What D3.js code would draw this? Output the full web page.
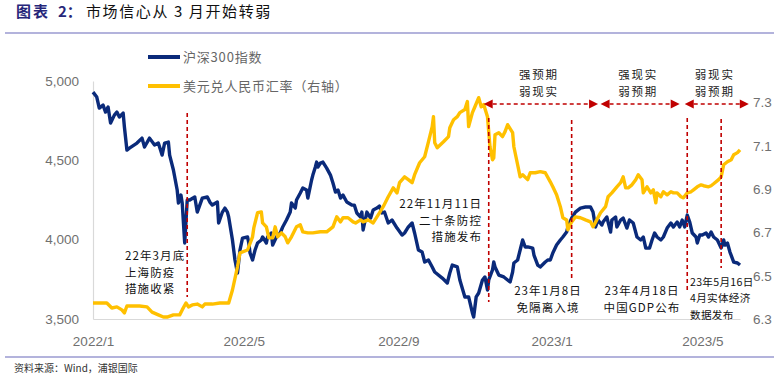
<!DOCTYPE html>
<html><head><meta charset="utf-8">
<script src="https://cdn.jsdelivr.net/npm/d3@7/dist/d3.min.js"></script>
<style>body{margin:0;background:#fff} svg{display:block}</style>
</head><body><svg id="c" width="774" height="378"></svg>
<script>
const csiDates = ["2022-01-04","2022-01-07","2022-01-09","2022-01-12","2022-01-14","2022-01-16","2022-01-18","2022-01-21","2022-01-23","2022-01-25","2022-01-28","2022-01-29","2022-01-31","2022-02-02","2022-02-08","2022-02-12","2022-02-14","2022-02-18","2022-02-22","2022-02-25","2022-02-28","2022-03-02","2022-03-05","2022-03-06","2022-03-09","2022-03-12","2022-03-13","2022-03-15","2022-03-16","2022-03-18","2022-03-20","2022-03-22","2022-03-26","2022-03-28","2022-04-01","2022-04-05","2022-04-07","2022-04-09","2022-04-13","2022-04-14","2022-04-17","2022-04-19","2022-04-21","2022-04-22","2022-04-25","2022-04-27","2022-04-29","2022-05-01","2022-05-03","2022-05-07","2022-05-08","2022-05-09","2022-05-11","2022-05-13","2022-05-15","2022-05-18","2022-05-19","2022-05-22","2022-05-23","2022-05-26","2022-05-27","2022-05-30","2022-06-02","2022-06-04","2022-06-07","2022-06-10","2022-06-11","2022-06-14","2022-06-15","2022-06-18","2022-06-20","2022-06-23","2022-06-24","2022-06-27","2022-06-28","2022-06-30","2022-07-01","2022-07-02","2022-07-04","2022-07-06","2022-07-09","2022-07-12","2022-07-14","2022-07-16","2022-07-18","2022-07-20","2022-07-22","2022-07-25","2022-07-29","2022-07-31","2022-08-02","2022-08-05","2022-08-06","2022-08-07","2022-08-10","2022-08-13","2022-08-15","2022-08-18","2022-08-20","2022-08-22","2022-08-24","2022-08-27","2022-08-30","2022-09-03","2022-09-07","2022-09-09","2022-09-12","2022-09-15","2022-09-17","2022-09-20","2022-09-23","2022-09-25","2022-09-28","2022-10-01","2022-10-03","2022-10-09","2022-10-13","2022-10-15","2022-10-17","2022-10-21","2022-10-23","2022-10-27","2022-10-30","2022-11-02","2022-11-03","2022-11-05","2022-11-07","2022-11-10","2022-11-12","2022-11-14","2022-11-15","2022-11-18","2022-11-19","2022-11-20","2022-11-23","2022-11-27","2022-11-30","2022-12-02","2022-12-04","2022-12-05","2022-12-08","2022-12-10","2022-12-12","2022-12-14","2022-12-16","2022-12-20","2022-12-21","2022-12-24","2022-12-26","2022-12-30","2023-01-01","2023-01-03","2023-01-05","2023-01-08","2023-01-11","2023-01-13","2023-01-16","2023-01-17","2023-01-20","2023-01-23","2023-01-27","2023-01-31","2023-02-04","2023-02-06","2023-02-08","2023-02-10","2023-02-13","2023-02-14","2023-02-17","2023-02-20","2023-02-21","2023-02-24","2023-02-25","2023-02-28","2023-03-02","2023-03-05","2023-03-07","2023-03-10","2023-03-13","2023-03-16","2023-03-18","2023-03-20","2023-03-23","2023-03-25","2023-03-27","2023-03-29","2023-04-01","2023-04-03","2023-04-06","2023-04-09","2023-04-11","2023-04-14","2023-04-16","2023-04-18","2023-04-20","2023-04-22","2023-04-24","2023-04-26","2023-04-29","2023-04-30","2023-05-02","2023-05-04","2023-05-07","2023-05-09","2023-05-11","2023-05-13","2023-05-16","2023-05-19","2023-05-21","2023-05-22","2023-05-24","2023-05-26","2023-05-29","2023-06-01","2023-06-03"];
const csiValues = [4930,4899,4829,4848,4804,4836,4735,4785,4804,4773,4798,4710,4565,4577,4609,4640,4584,4640,4596,4609,4533,4609,4615,4533,4439,4313,4231,4281,4231,3979,4250,4250,4269,4174,4262,4269,4237,4218,4237,4105,4174,4199,4174,4143,3998,3872,3790,3935,4010,4017,3979,3916,3872,3935,3979,3998,4017,3979,4017,4042,3966,4017,4042,4080,4124,4174,4231,4199,4250,4294,4325,4313,4262,4376,4407,4458,4489,4458,4483,4489,4451,4407,4357,4300,4313,4262,4281,4237,4218,4218,4168,4143,4174,4061,4174,4136,4187,4199,4212,4168,4174,4105,4124,4073,4029,4042,4080,4105,4042,3935,3922,3859,3872,3828,3796,3758,3727,3790,3840,3828,3746,3639,3639,3538,3513,3639,3664,3746,3765,3683,3746,3809,3859,3828,3777,3765,3746,3733,3796,3853,3872,3935,3998,3954,3954,3947,3903,3840,3828,3859,3872,3872,3916,3966,3998,4017,4048,4080,4136,4174,4199,4206,4206,4174,4080,4124,4092,4111,4143,4048,4124,4143,4080,4124,4136,4073,4124,4105,4017,3998,4017,3947,3947,3998,4042,4017,3998,4017,4073,4105,4080,4111,4080,4124,4080,4155,4111,4042,4017,3979,4029,4029,4042,4017,4048,4017,3998,3947,3998,3966,3979,3922,3859,3853,3840];
const fxDates = ["2022-01-04","2022-01-09","2022-01-15","2022-01-19","2022-01-23","2022-01-27","2022-01-29","2022-01-31","2022-02-10","2022-02-16","2022-02-20","2022-02-25","2022-03-01","2022-03-04","2022-03-09","2022-03-14","2022-03-16","2022-03-19","2022-03-21","2022-03-24","2022-03-28","2022-04-01","2022-04-03","2022-04-09","2022-04-15","2022-04-22","2022-04-25","2022-04-29","2022-05-01","2022-05-07","2022-05-11","2022-05-12","2022-05-15","2022-05-18","2022-05-19","2022-05-22","2022-05-24","2022-05-27","2022-05-29","2022-05-31","2022-06-03","2022-06-06","2022-06-08","2022-06-11","2022-06-15","2022-06-18","2022-06-20","2022-06-24","2022-06-28","2022-07-04","2022-07-09","2022-07-14","2022-07-17","2022-07-20","2022-07-22","2022-07-26","2022-07-30","2022-08-01","2022-08-05","2022-08-07","2022-08-11","2022-08-15","2022-08-18","2022-08-20","2022-08-23","2022-08-27","2022-08-31","2022-09-03","2022-09-05","2022-09-09","2022-09-12","2022-09-15","2022-09-17","2022-09-21","2022-09-25","2022-09-28","2022-10-01","2022-10-02","2022-10-03","2022-10-05","2022-10-10","2022-10-14","2022-10-15","2022-10-18","2022-10-21","2022-10-23","2022-10-27","2022-10-29","2022-10-30","2022-11-02","2022-11-04","2022-11-07","2022-11-09","2022-11-11","2022-11-14","2022-11-16","2022-11-18","2022-11-19","2022-11-20","2022-11-23","2022-11-26","2022-11-28","2022-11-30","2022-12-04","2022-12-05","2022-12-08","2022-12-10","2022-12-12","2022-12-16","2022-12-18","2022-12-22","2022-12-26","2022-12-30","2023-01-03","2023-01-05","2023-01-08","2023-01-11","2023-01-13","2023-01-16","2023-01-17","2023-01-20","2023-01-23","2023-01-27","2023-01-31","2023-02-04","2023-02-06","2023-02-09","2023-02-12","2023-02-16","2023-02-18","2023-02-21","2023-02-25","2023-02-28","2023-03-02","2023-03-04","2023-03-06","2023-03-09","2023-03-12","2023-03-14","2023-03-17","2023-03-18","2023-03-21","2023-03-24","2023-03-26","2023-03-28","2023-03-29","2023-04-01","2023-04-03","2023-04-06","2023-04-09","2023-04-11","2023-04-14","2023-04-17","2023-04-19","2023-04-22","2023-04-25","2023-04-27","2023-04-30","2023-05-03","2023-05-05","2023-05-09","2023-05-11","2023-05-13","2023-05-17","2023-05-19","2023-05-21","2023-05-24","2023-05-27","2023-05-29","2023-06-01","2023-06-03"];
const fxValues = [6.374,6.374,6.374,6.351,6.356,6.342,6.328,6.360,6.360,6.356,6.332,6.319,6.309,6.309,6.319,6.319,6.342,6.374,6.356,6.365,6.369,6.356,6.369,6.369,6.374,6.374,6.434,6.541,6.606,6.619,6.680,6.721,6.791,6.795,6.744,6.726,6.675,6.675,6.726,6.680,6.698,6.680,6.652,6.680,6.726,6.735,6.703,6.698,6.698,6.703,6.703,6.726,6.772,6.749,6.768,6.768,6.749,6.744,6.758,6.749,6.758,6.744,6.772,6.791,6.819,6.865,6.906,6.883,6.930,6.957,6.944,6.930,6.967,7.022,7.050,7.119,7.189,7.235,7.115,7.092,7.119,7.143,7.184,7.221,7.235,7.254,7.268,7.305,7.189,7.254,7.281,7.323,7.281,7.291,7.235,7.096,7.036,7.045,7.152,7.161,7.143,7.166,7.198,7.161,7.096,7.013,6.957,6.967,6.944,6.976,6.976,6.981,6.976,6.934,6.911,6.874,6.819,6.768,6.758,6.712,6.749,6.772,6.768,6.758,6.749,6.726,6.758,6.791,6.819,6.865,6.883,6.911,6.930,6.957,6.906,6.906,6.920,6.944,6.967,6.944,6.883,6.911,6.883,6.897,6.837,6.883,6.865,6.888,6.874,6.888,6.883,6.883,6.865,6.860,6.883,6.888,6.897,6.911,6.920,6.916,6.911,6.916,6.925,6.944,6.957,7.013,7.027,7.036,7.059,7.069,7.082];
const xTickDates = ["2022-01-04","2022-05-04","2022-09-04","2023-01-04","2023-05-04"];
const xTickLabels = ["2022/1","2022/5","2022/9","2023/1","2023/5"];
const leftTicks = [3500,4000,4500,5000];
const rightTicks = [6.3,6.5,6.7,6.9,7.1,7.3];
const seriesNames = ["沪深300指数","美元兑人民币汇率（右轴）"];
const eventDates = ["2022-03-20","2022-11-15","2023-01-20","2023-04-22","2023-05-19"];
const eventLabels = [["22年3月底","上海防疫","措施收紧"],["22年11月11日","二十条防控","措施发布"],["23年1月8日","免隔离入境"],["23年4月18日","中国GDP公布"],["23年5月16日","4月实体经济","数据发布"]];
const phaseStarts = ["2022-11-11","2023-02-12","2023-04-20"];
const phaseEnds = ["2023-02-10","2023-04-16","2023-06-10"];
const phaseLabels = [["强预期","弱现实"],["强现实","弱预期"],["弱现实","弱预期"]];

const parse = d3.timeParse("%Y-%m-%d");
const svg = d3.select("#c");
const FONT = "'Liberation Sans','Noto Sans CJK SC',sans-serif";
const CJK = "'Noto Sans CJK SC','Liberation Sans',sans-serif";
const RED = "#C00000";
const L = 93, R = 740, T = 81, B = 319;

const x = d3.scaleTime().domain([parse(csiDates[0]), parse(csiDates[csiDates.length-1])]).range([L, R]);
const yL = d3.scaleLinear().domain([3500, 5000]).range([B, T]);
const yR = d3.scaleLinear().domain([6.3, 7.4]).range([B, T]);

// title
const title = svg.append("text").attr("y", 17).attr("font-family", CJK).attr("font-size", 15);
title.append("tspan").attr("x", 16).attr("fill", "#26267a").attr("font-weight", "bold").attr("letter-spacing", 2).text("图表");
title.append("tspan").attr("x", 58).attr("fill", "#26267a").attr("font-weight", "bold").text("2：");
title.append("tspan").attr("x", 86).attr("fill", "#111").attr("letter-spacing", 1.6).text("市场信心从 3 月开始转弱");
svg.append("line").attr("x1", 5).attr("x2", 774).attr("y1", 33).attr("y2", 33).attr("stroke", "#9a9ad0").attr("stroke-width", 1.5);
svg.append("line").attr("x1", 5).attr("x2", 774).attr("y1", 357).attr("y2", 357).attr("stroke", "#9a9ad0").attr("stroke-width", 1.5);
svg.append("text").attr("x", 14).attr("y", 372).attr("font-family", CJK).attr("font-size", 10).attr("fill", "#333")
  .text("资料来源：Wind，浦银国际");

// axes
const gx = svg.append("g").attr("transform", `translate(0,${B})`)
  .call(d3.axisBottom(x).tickValues(xTickDates.map(parse)).tickFormat((d,i) => xTickLabels[i]).tickSize(0).tickPadding(17));
gx.select(".domain").attr("stroke", "#d9d9d9").attr("stroke-width", 1.2);
gx.selectAll("text").attr("font-family", FONT).attr("font-size", 13.5).attr("fill", "#707070");

const gl = svg.append("g").attr("transform", `translate(${L},0)`)
  .call(d3.axisLeft(yL).tickValues(leftTicks).tickFormat(d3.format(",")).tickSize(0).tickPadding(14));
gl.select(".domain").attr("stroke", "#d9d9d9").attr("stroke-width", 1.2);
gl.selectAll("text").attr("font-family", FONT).attr("font-size", 13.5).attr("fill", "#707070");

const gr = svg.append("g").attr("transform", `translate(${R},0)`)
  .call(d3.axisRight(yR).tickValues(rightTicks).tickFormat(d3.format(".1f")).tickSize(0).tickPadding(13));
gr.select(".domain").remove();
gr.selectAll("text").attr("font-family", FONT).attr("font-size", 13.5).attr("fill", "#707070");

// series
const csi = csiDates.map((d,i) => ({d: parse(d), v: csiValues[i]}));
const fx = fxDates.map((d,i) => ({d: parse(d), v: fxValues[i]}));
svg.append("path").datum(csi).attr("fill", "none").attr("stroke", "#0a2a7a").attr("stroke-width", 3.4)
  .attr("stroke-linejoin", "round").attr("d", d3.line().x(p => x(p.d)).y(p => yL(p.v)));
svg.append("path").datum(fx).attr("fill", "none").attr("stroke", "#FFC000").attr("stroke-width", 3.4)
  .attr("stroke-linejoin", "round").attr("d", d3.line().x(p => x(p.d)).y(p => yR(p.v)));

// legend
const legend = [{y: 57, c: "#0a2a7a"}, {y: 86, c: "#FFC000"}];
legend.forEach((lg, i) => {
  svg.append("line").attr("x1", 148).attr("x2", 180).attr("y1", lg.y).attr("y2", lg.y).attr("stroke", lg.c).attr("stroke-width", 4);
  svg.append("text").attr("x", 183).attr("y", lg.y).attr("dy", "0.35em").attr("font-family", CJK).attr("font-size", 13)
    .attr("fill", "#666").attr("letter-spacing", 0.8).text(seriesNames[i]);
});

// event lines + labels
const eventLayout = [
  {y1: 113, y2: 297, anchor: "start", tx: 125, ty: 256, fs: 11.5, ls: 1.1},
  {y1: 118, y2: 302, anchor: "end", tx: 482, ty: 204, fs: 11.5, ls: 1.1},
  {y1: 120, y2: 278, anchor: "middle", tx: 548, ty: 291, fs: 11.5, ls: 1.1},
  {y1: 118, y2: 293, anchor: "middle", tx: 642, ty: 291, fs: 11.5, ls: 1.1},
  {y1: 119, y2: 268, anchor: "start", tx: 690, ty: 282, fs: 10.6, ls: 0.3}
];
eventDates.forEach((ds, i) => {
  const lay = eventLayout[i], xx = x(parse(ds));
  svg.append("line").attr("x1", xx).attr("x2", xx).attr("y1", lay.y1).attr("y2", lay.y2)
    .attr("stroke", RED).attr("stroke-width", 1.6).attr("stroke-dasharray", "4,3");
  eventLabels[i].forEach((t, j) => {
    svg.append("text").attr("x", lay.tx).attr("y", lay.ty + j * 16.5).attr("dy", "0.35em")
      .attr("text-anchor", lay.anchor).attr("font-family", CJK).attr("font-size", lay.fs)
      .attr("fill", "#111").attr("letter-spacing", lay.ls).text(t);
  });
});

// phase arrows
const AY = 104, HW = 9, HH = 4.5;
phaseStarts.forEach((s, i) => {
  const x1 = x(parse(s)), x2 = x(parse(phaseEnds[i]));
  svg.append("line").attr("x1", x1 + HW).attr("x2", x2 - HW).attr("y1", AY).attr("y2", AY)
    .attr("stroke", RED).attr("stroke-width", 1.6).attr("stroke-dasharray", "4,3");
  svg.append("path").attr("fill", RED).attr("d", `M${x1},${AY}L${x1+HW},${AY-HH}L${x1+HW},${AY+HH}Z`);
  svg.append("path").attr("fill", RED).attr("d", `M${x2},${AY}L${x2-HW},${AY-HH}L${x2-HW},${AY+HH}Z`);
  const cx = (x1 + x2) / 2 - 2;
  phaseLabels[i].forEach((t, j) => {
    svg.append("text").attr("x", cx).attr("y", 75 + j * 17).attr("dy", "0.35em").attr("text-anchor", "middle")
      .attr("font-family", CJK).attr("font-size", 11.5).attr("letter-spacing", 1.8).attr("fill", "#222").text(t);
  });
});
</script></body></html>
